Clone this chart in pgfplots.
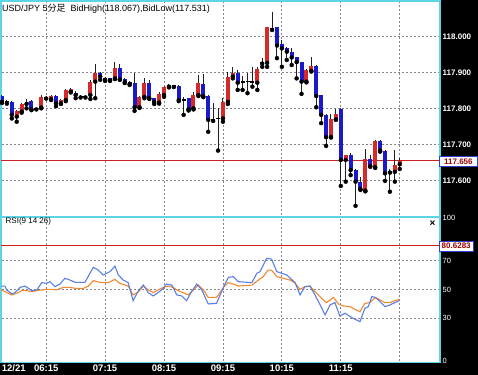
\documentclass[border=0pt]{standalone}
\usepackage{pgfplots}
\usepackage{pgfplotstable}
\pgfplotsset{compat=1.18}
\usepackage{fontspec}
\setmainfont{Liberation Sans}
\newfontfamily\cjk{Noto Sans CJK JP}

\definecolor{cyb}{HTML}{5CD6E6}
\definecolor{candred}{HTML}{D42A2A}
\definecolor{candblue}{HTML}{1A1AC8}
\definecolor{gridb}{HTML}{84848F}
\definecolor{rsiblue}{HTML}{5B7FE6}
\definecolor{rsiorange}{HTML}{F0892E}
\definecolor{lvlred}{HTML}{CC1F1F}
\definecolor{boxtext}{HTML}{9A0000}
\definecolor{boxblue}{HTML}{2B3FD0}
\definecolor{wick}{HTML}{202020}

% candles: i open high low close
\pgfplotstableread{
i o h l c
3 117.778 117.796 117.764 117.794
4 117.792 117.816 117.789 117.813
5 117.813 117.827 117.801 117.819
8 117.803 117.838 117.801 117.832
10 117.826 117.838 117.824 117.835
12 117.815 117.827 117.813 117.824
13 117.824 117.855 117.821 117.852
14 117.847 117.856 117.845 117.854
18 117.838 117.880 117.827 117.875
19 117.875 117.923 117.829 117.899
23 117.884 117.930 117.882 117.912
28 117.804 117.835 117.802 117.833
29 117.833 117.884 117.829 117.872
32 117.817 117.847 117.814 117.841
33 117.838 117.863 117.833 117.859
34 117.861 117.868 117.859 117.866
39 117.801 117.847 117.798 117.837
40 117.838 117.893 117.835 117.870
45 117.773 117.829 117.764 117.819
46 117.819 117.903 117.813 117.889
47 117.889 117.916 117.884 117.898
52 117.872 117.915 117.852 117.909
53 117.925 117.940 117.916 117.930
54 117.927 118.026 117.916 118.025
62 117.875 117.909 117.873 117.907
63 117.905 117.944 117.903 117.918
67 117.722 117.785 117.720 117.771
68 117.771 117.798 117.769 117.784
70 117.658 117.673 117.598 117.672
74 117.573 117.688 117.571 117.660
76 117.638 117.713 117.636 117.711
80 117.625 117.686 117.598 117.644
81 117.646 117.663 117.633 117.655
}\bull

\pgfplotstableread{
i o h l c
0 117.835 117.838 117.816 117.819
2 117.819 117.821 117.773 117.783
6 117.821 117.824 117.796 117.798
11 117.835 117.837 117.807 117.815
15 117.844 117.848 117.829 117.838
20 117.900 117.902 117.880 117.889
21 117.886 117.888 117.877 117.880
22 117.884 117.885 117.877 117.878
24 117.912 117.924 117.880 117.881
25 117.883 117.885 117.871 117.873
26 117.875 117.877 117.866 117.868
27 117.870 117.898 117.794 117.804
30 117.872 117.880 117.827 117.829
31 117.829 117.831 117.813 117.819
36 117.863 117.866 117.821 117.824
38 117.829 117.831 117.795 117.798
41 117.868 117.896 117.832 117.834
42 117.834 117.837 117.736 117.769
48 117.898 117.907 117.852 117.872
56 118.025 118.026 117.940 117.975
57 117.978 117.990 117.916 117.967
58 117.967 117.972 117.935 117.958
59 117.958 117.967 117.921 117.942
60 117.942 117.944 117.884 117.929
61 117.929 117.929 117.841 117.875
64 117.918 117.920 117.804 117.835
65 117.838 117.839 117.760 117.783
66 117.783 117.784 117.697 117.721
69 117.798 117.801 117.586 117.658
71 117.672 117.676 117.616 117.630
72 117.630 117.632 117.531 117.598
73 117.598 117.611 117.575 117.577
75 117.660 117.672 117.639 117.641
77 117.711 117.713 117.681 117.684
78 117.684 117.686 117.600 117.621
79 117.628 117.632 117.570 117.623
}\bear

\pgfplotstableread{
i o h l c
1 117.819 117.823 117.814 117.819
7 117.800 117.803 117.798 117.800
9 117.832 117.835 117.828 117.832
16 117.834 117.837 117.831 117.834
17 117.834 117.837 117.831 117.834
35 117.865 117.867 117.860 117.865
37 117.824 117.833 117.783 117.824
43 117.771 117.817 117.766 117.771
44 117.773 117.802 117.684 117.773
49 117.874 117.891 117.852 117.874
50 117.875 117.898 117.843 117.875
51 117.874 117.916 117.861 117.874
55 118.022 118.067 118.018 118.022
}\doji

\pgfplotsset{
  chartbase/.style={
    scale only axis, width=439bp,
    xmin=-0.2, xmax=89.2,
    axis line style={draw=cyb, line width=1.6bp},
    major tick length=0pt,
    xtick={9,21,33,45,57,69,81},
    /pgf/number format/assume math mode=true,
    yticklabel pos=right,
    yticklabel style={anchor=west, inner sep=0pt, xshift=2.5bp, text=white},
  },
}

\begin{document}
\begin{tikzpicture}
\fill[black] (0,0) rectangle (478bp,375bp);
\fill[white] (1bp,158.5bp) rectangle (440bp,374.2bp);
\fill[white] (1bp,12.5bp) rectangle (440bp,157.5bp);

% dotted grid drawn as short pixel-aligned strokes
\foreach \yy in {194.5,230.5,266.5,302.5,338.5,56.5,85.5,114.5} {
  \draw[gridb, line width=1bp] \foreach \xx in {2,6,...,438} { (\xx bp,\yy bp) -- ++(2bp,0) };
}
\foreach \xx in {46.5,105.5,164.5,223.5,281.5,340.5,399.5} {
  \draw[gridb, line width=1bp] \foreach \yy in {160,164,...,372} { (\xx bp,\yy bp) -- ++(0,2bp) };
  \draw[gridb, line width=1bp] \foreach \yy in {14,18,...,155} { (\xx bp,\yy bp) -- ++(0,2bp) };
}

% price panel
\begin{axis}[chartbase,
  at={(1bp,158.5bp)}, anchor=south west, height=215.7bp,
  ymin=117.5014, ymax=118.0989,
  ytick={117.6,117.7,117.8,117.9,118.0},
  xticklabels={},
  yticklabel style={font=\bfseries\fontsize{8bp}{9bp}\selectfont,
    /pgf/number format/.cd, fixed, fixed zerofill, precision=3},
]
\addplot[lvlred, line width=1bp] coordinates {(-0.2,117.656) (89.2,117.656)};
% wicks
\addplot[only marks, mark=none, error bars/.cd, y dir=plus, y explicit, error mark=none,
  error bar style={draw=wick, line width=1bp}]
  table[x=i, y=l, y error plus expr={\thisrow{h}-\thisrow{l}}] {\bull};
\addplot[only marks, mark=none, error bars/.cd, y dir=plus, y explicit, error mark=none,
  error bar style={draw=wick, line width=1bp}]
  table[x=i, y=l, y error plus expr={\thisrow{h}-\thisrow{l}}] {\bear};
\addplot[only marks, mark=none, error bars/.cd, y dir=plus, y explicit, error mark=none,
  error bar style={draw=wick, line width=1bp}]
  table[x=i, y=l, y error plus expr={\thisrow{h}-\thisrow{l}}] {\doji};
% bodies
\addplot[only marks, mark=none, error bars/.cd, y dir=plus, y explicit, error mark=none,
  error bar style={draw=candred, line width=4bp}]
  table[x=i, y=o, y error plus expr={\thisrow{c}-\thisrow{o}}] {\bull};
\addplot[only marks, mark=none, error bars/.cd, y dir=plus, y explicit, error mark=none,
  error bar style={draw=candblue, line width=4bp}]
  table[x=i, y=c, y error plus expr={\thisrow{o}-\thisrow{c}}] {\bear};
\addplot[only marks, mark=-, mark size=2bp, mark options={draw=black, line width=1.1bp}]
  table[x=i, y=o] {\doji};
\end{axis}

% RSI panel
\begin{axis}[chartbase,
  at={(1bp,12.5bp)}, anchor=south west, height=145bp,
  ymin=-1.05, ymax=100.35,
  ytick={0,30,50,70,100},
  yticklabel style={font=\fontsize{7.5bp}{9bp}\selectfont},
  xticklabels={06:15,07:15,08:15,09:15,10:15,11:15,{}},
  extra x ticks={2.4}, extra x tick labels={12/21},
  xticklabel style={anchor=north, inner sep=0pt, yshift=-1.8bp, text=white,
    font=\bfseries\fontsize{9.5bp}{10bp}\selectfont},
]
\addplot[lvlred, line width=1bp] coordinates {(-0.2,80.6283) (89.2,80.6283)};
\addplot[rsiorange, line width=1.1bp] coordinates {
(-0.2,49.7) (0.6,48.5) (2.0,46.2) (3.0,47.3) (4.0,49.2) (5.0,49.2) (6.05,48.5)
(7.1,49.2) (8.1,49.7) (9.1,50.1) (10.1,50.1) (11.1,49.7) (12.5,51.5) (13.85,51.5)
(14.9,50.8) (16.6,50.8) (17.6,52.4) (18.6,56.2) (19.6,55.2) (20.6,54.8) (21.65,54.8)
(23.0,57.1) (24.0,54.3) (25.7,52.4) (26.7,46.2) (27.8,48.5) (28.8,52.4) (29.8,49.7)
(30.8,47.8) (31.8,49.7) (32.85,51.5) (33.9,52.4) (34.9,51.3) (35.9,49.2) (36.9,47.8)
(37.9,46.2) (39.0,49.7) (40.0,53.1) (41.0,49.7) (42.0,44.5) (43.7,44.5) (45.1,51.5)
(46.1,54.8) (47.1,53.8) (48.1,52.4) (50.9,53.1) (52.2,56.6) (53.2,59.0) (54.2,63.6)
(54.9,63.6) (55.95,59.0) (57.3,57.8) (58.7,56.6) (59.7,54.3) (60.7,50.1) (61.7,52.0)
(62.7,52.4) (63.75,48.5) (65.1,43.8) (66.1,40.8) (67.5,44.5) (68.5,39.9) (69.5,38.5)
(70.9,38.0) (71.9,36.1) (72.9,34.5) (73.9,40.3) (74.95,40.8) (76.0,44.5) (77.0,42.7)
(78.0,40.8) (79.0,40.8) (80.0,42.2) (80.9,43.1)
};
\addplot[rsiblue, line width=1.1bp] coordinates {
(-0.2,52.4) (0.6,52.4) (0.95,49.7) (2.0,46.9) (2.65,47.8) (3.7,51.5) (4.7,52.4)
(5.4,50.8) (6.05,49.2) (7.1,49.7) (8.1,54.8) (9.1,54.3) (9.8,55.5) (10.8,52.0)
(11.8,53.8) (12.8,57.8) (13.85,56.6) (14.9,55.0) (15.9,55.0) (16.9,55.0) (17.9,61.3)
(18.6,65.5) (19.6,63.6) (20.6,60.1) (21.3,61.3) (22.0,62.5) (23.0,66.4) (23.7,60.1)
(24.7,56.6) (25.7,54.8) (26.7,42.2) (27.8,49.2) (28.8,53.1) (29.8,47.8) (30.8,45.5)
(31.8,47.8) (32.85,50.8) (33.5,53.8) (34.6,53.1) (35.6,46.2) (36.6,45.5) (37.6,42.2)
(38.6,48.5) (39.65,53.8) (40.7,49.7) (42.0,39.9) (43.7,40.3) (45.1,51.5) (46.1,58.5)
(47.1,59.0) (48.1,55.5) (50.9,54.8) (51.9,61.3) (52.55,62.5) (53.9,71.8) (54.9,71.3)
(55.95,62.5) (57.0,61.3) (58.0,60.1) (59.7,54.8) (60.7,46.2) (61.7,52.0) (62.7,52.4)
(63.75,46.2) (64.8,39.2) (65.8,32.2) (66.8,39.2) (67.8,40.8) (68.8,31.5) (69.9,33.4)
(70.9,31.0) (71.9,29.2) (72.9,27.5) (73.9,36.8) (74.6,38.0) (75.3,45.0) (76.0,44.5)
(77.0,41.5) (78.0,38.0) (79.0,39.2) (80.0,40.8) (80.9,42.2)
};
\end{axis}

% texts
\node[anchor=base west, inner sep=0pt, font=\fontsize{9bp}{10bp}\selectfont] at (2bp,363.6bp)
  {USD/JPY 5{\cjk 分足}\hspace{5bp}BidHigh(118.067),BidLow(117.531)};
\node[anchor=base west, inner sep=0pt, font=\fontsize{8bp}{9bp}\selectfont] at (5.5bp,151.3bp)
  {RSI(9 14 26)};
\node[inner sep=0pt, font=\bfseries\fontsize{10bp}{10bp}\selectfont] at (432.5bp,151.3bp) {×};
\node[draw=boxblue, fill=white, line width=0.8bp, text=boxtext, inner sep=0pt,
  minimum width=38bp, minimum height=10.6bp,
  font=\bfseries\fontsize{8bp}{9bp}\selectfont] at (458.4bp,213.6bp) {117.656};
\node[draw=boxblue, fill=white, line width=0.8bp, text=boxtext, inner sep=0pt,
  minimum width=34bp, minimum height=10bp,
  font=\bfseries\fontsize{8bp}{9bp}\selectfont] at (456.2bp,129bp) {80.6283};

\pgfresetboundingbox
\path[use as bounding box] (0,0) rectangle (478bp,375bp);
\end{tikzpicture}
\end{document}
